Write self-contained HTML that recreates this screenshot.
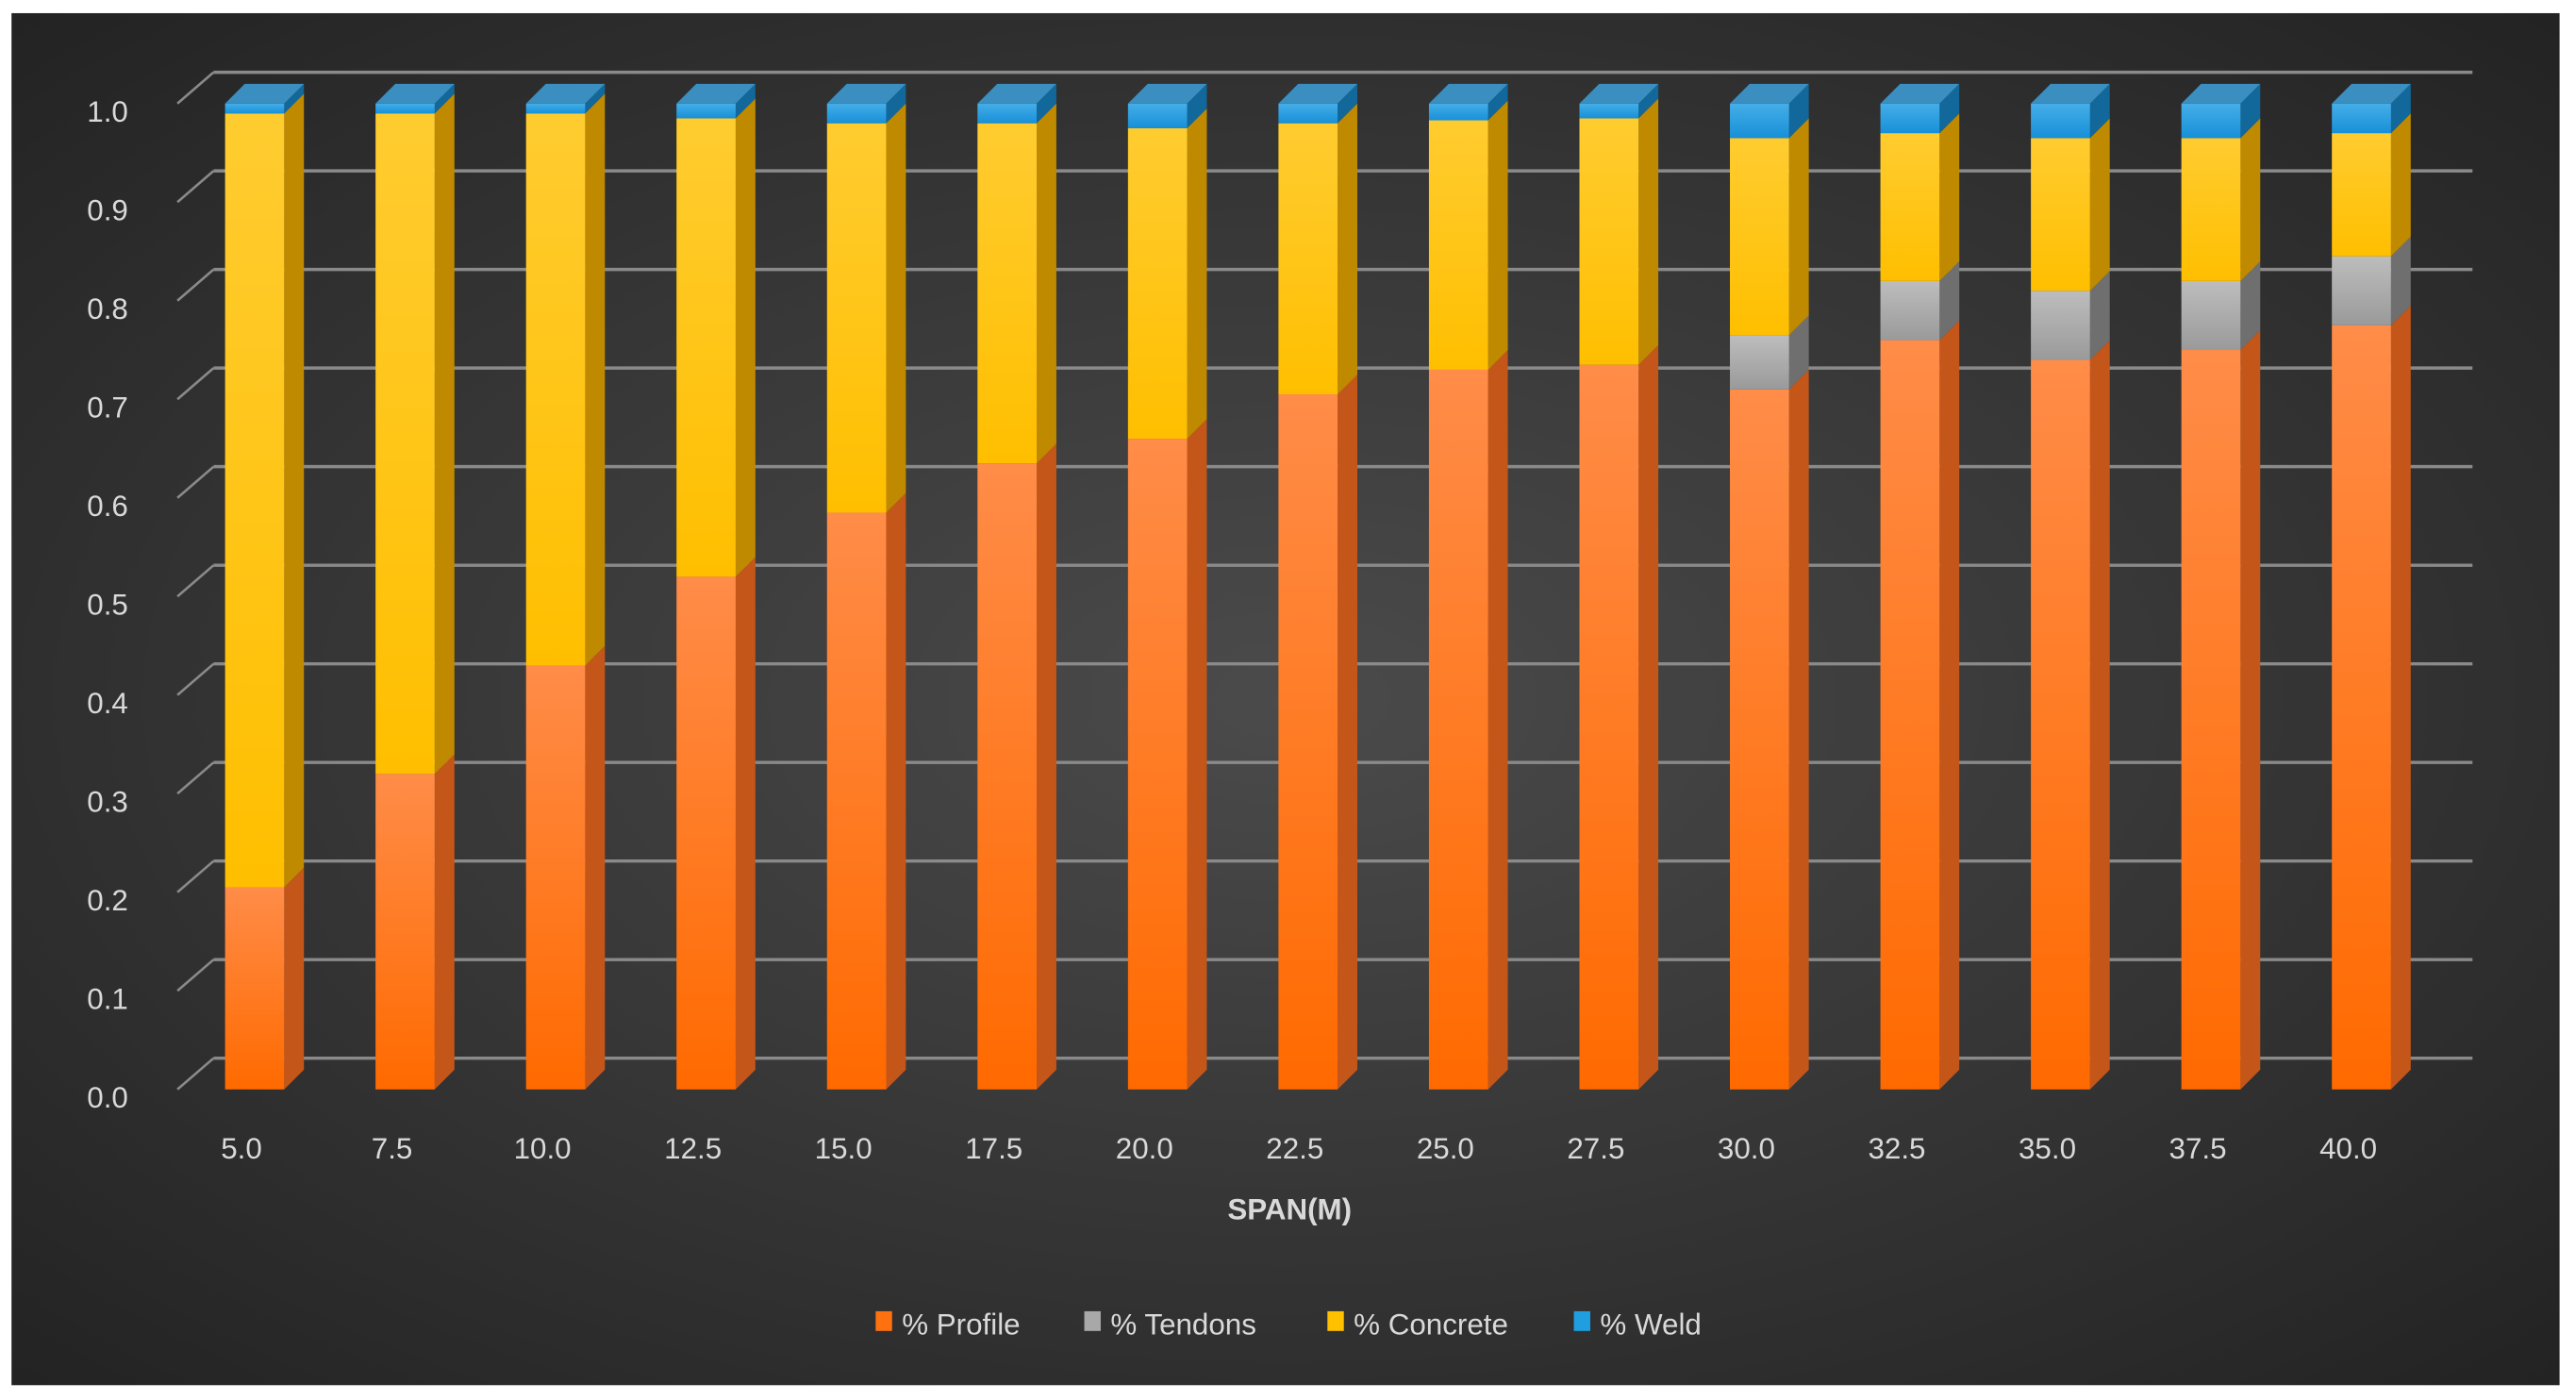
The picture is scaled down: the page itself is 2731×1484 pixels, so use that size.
<!DOCTYPE html>
<html><head><meta charset="utf-8"><style>
html,body{margin:0;padding:0;background:#fff;}
svg{display:block;font-family:"Liberation Sans",sans-serif;}
</style></head><body>
<svg id="chart" width="2731" height="1484" viewBox="0 0 1568 852" xmlns="http://www.w3.org/2000/svg">
<defs>
<radialGradient id="bg" cx="0.5" cy="0.5" r="0.7">
<stop offset="0" stop-color="#4b4b4b"/><stop offset="1" stop-color="#232323"/>
</radialGradient>
<linearGradient id="gProfile" x1="0" y1="0" x2="0" y2="1"><stop offset="0" stop-color="#ff8c48"/><stop offset="1" stop-color="#ff6a00"/></linearGradient>
<linearGradient id="gTendons" x1="0" y1="0" x2="0" y2="1"><stop offset="0" stop-color="#bdbdbd"/><stop offset="1" stop-color="#9a9a9a"/></linearGradient>
<linearGradient id="gConcrete" x1="0" y1="0" x2="0" y2="1"><stop offset="0" stop-color="#ffcc30"/><stop offset="1" stop-color="#ffbf00"/></linearGradient>
<linearGradient id="gWeld" x1="0" y1="0" x2="0" y2="1"><stop offset="0" stop-color="#45aee8"/><stop offset="1" stop-color="#1790d8"/></linearGradient>
</defs>
<rect x="7" y="8" width="1551" height="835" fill="url(#bg)"/>
<g id="grid"></g>
<g id="bars"></g>
<g id="labels"></g>
<text x="785" y="742" fill="#d9d9d9" font-size="18" font-weight="bold" text-anchor="middle">SPAN(M)</text>
<g font-size="18" fill="#d9d9d9">
<rect x="533" y="798" width="10" height="12" fill="#ff7010"/>
<text x="549" y="812">% Profile</text>
<rect x="660" y="798" width="10" height="12" fill="#a8a8a8"/>
<text x="676" y="812">% Tendons</text>
<rect x="808" y="798" width="10" height="12" fill="#ffc000"/>
<text x="824" y="812">% Concrete</text>
<rect x="958" y="798" width="10" height="12" fill="#1f9fe0"/>
<text x="974" y="812">% Weld</text>
</g>
</svg>
<script>
const categories = ["5.0","7.5","10.0","12.5","15.0","17.5","20.0","22.5","25.0","27.5","30.0","32.5","35.0","37.5","40.0"];
const profile  = [0.205,0.32,0.43,0.52,0.585,0.635,0.66,0.705,0.73,0.735,0.71,0.76,0.74,0.75,0.775];
const tendons  = [0,0,0,0,0,0,0,0,0,0,0.055,0.06,0.07,0.07,0.07];
const concrete = [0.785,0.67,0.56,0.465,0.395,0.345,0.315,0.275,0.253,0.25,0.20,0.15,0.155,0.145,0.125];
const weld     = [0.01,0.01,0.01,0.015,0.02,0.02,0.025,0.02,0.017,0.015,0.035,0.03,0.035,0.035,0.03];
const yTicks = [0,0.1,0.2,0.3,0.4,0.5,0.6,0.7,0.8,0.9,1.0];

const NS="http://www.w3.org/2000/svg";
const y0=663, yH=600, x0=155, step=91.6, bw=36, dx=12, dy=12, gdx=22, gdy=19;
function yS(v){return y0-v*yH;}
function xS(i){return x0+i*step;}
function mk(tag,attrs,parent){const e=document.createElementNS(NS,tag);for(const k in attrs)e.setAttribute(k,attrs[k]);parent.appendChild(e);return e;}

const grid=document.getElementById('grid');
yTicks.forEach(t=>{
  const y=yS(t);
  const l=mk('line',{x1:108,y1:y,x2:108+gdx,y2:y-gdy,stroke:'#8a8a8a','stroke-width':1.5},grid);
  
  
  const g=mk('line',{x1:108+gdx,y1:y-gdy,x2:1505,y2:y-gdy,stroke:'#8a8a8a','stroke-width':2},grid);
  
  
  const tx=mk('text',{x:78,y:y+11,fill:'#d9d9d9','font-size':18,'text-anchor':'end'},grid);
  tx.textContent=t.toFixed(1);
  
  
});

const series=[
  {name:'profile',vals:profile,fill:'url(#gProfile)',side:'#c4561a'},
  {name:'tendons',vals:tendons,fill:'url(#gTendons)',side:'#6f6f6f'},
  {name:'concrete',vals:concrete,fill:'url(#gConcrete)',side:'#c08a00'},
  {name:'weld',vals:weld,fill:'url(#gWeld)',side:'#12689a'}
];
const bars=document.getElementById('bars');
const labels=document.getElementById('labels');
categories.forEach((c,i)=>{
  const cx=xS(i), L=cx-bw/2, R=cx+bw/2;
  let acc=0;
  series.forEach(s=>{
    const v=s.vals[i];
    if(v<=0)return;
    const yb=yS(acc), yt=yS(acc+v);
    acc+=v;
    const side=mk('polygon',{points:`${R},${yb} ${R+dx},${yb-dy} ${R+dx},${yt-dy} ${R},${yt}`,fill:s.side},bars);
    
    
    const r=mk('rect',{x:L,y:yt,width:bw,height:yb-yt,fill:s.fill},bars);
    
    
  });
  const yt=yS(acc);
  const top=mk('polygon',{points:`${L},${yt} ${L+dx},${yt-dy} ${R+dx},${yt-dy} ${R},${yt}`,fill:'#3a8fc0'},bars);
  
  
  const t=mk('text',{x:cx-8,y:705,fill:'#d9d9d9','font-size':18,'text-anchor':'middle'},labels);
  t.textContent=c;
  
  
});
</script>
</body></html>
